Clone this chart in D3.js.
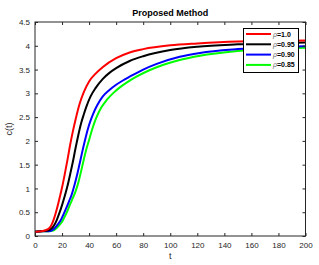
<!DOCTYPE html>
<html><head><meta charset="utf-8">
<script src="https://cdn.jsdelivr.net/npm/d3@7"></script>
<style>body{margin:0;background:#fff}svg{display:block}text{font-family:"Liberation Sans",Arial,sans-serif}</style>
</head><body><svg id="c" width="319" height="265"></svg>
<script>
const title = "Proposed Method";
const xLabel = "t", yLabel = "c(t)";
const xTicks = [0,20,40,60,80,100,120,140,160,180,200];
const yTicks = [0,0.5,1,1.5,2,2.5,3,3.5,4,4.5];
const seriesNames = ["=1.0","=0.95","=0.90","=0.85"];
const seriesColors = ["#ff0000","#000000","#0000ff","#00ff00"];
const redT   = [0,5,10,12,14,16,18,20,22,24,26,28,30,33,36,40,45,50,60,70,80,100,120,150,200];
const redV   = [0.09,0.1,0.15,0.22,0.36,0.55,0.78,1.02,1.3,1.6,1.92,2.2,2.45,2.78,3.02,3.25,3.42,3.55,3.74,3.86,3.93,4.01,4.05,4.09,4.11];
const blackT = [0,5,10,12,14,16,18,20,22,24,26,28,30,32,34,36,38,41,45,50,55,60,70,80,100,120,150,200];
const blackV = [0.09,0.1,0.12,0.15,0.22,0.33,0.48,0.65,0.84,1.05,1.3,1.56,1.85,2.12,2.36,2.55,2.72,2.93,3.12,3.3,3.43,3.53,3.68,3.78,3.91,3.98,4.03,4.07];
const blueT  = [0,5,10,13,15,17,19,21,23,25,27,29,31,33,35,37,39,41,43,46,50,55,60,65,70,80,90,107,122,150,200];
const blueV  = [0.09,0.1,0.1,0.13,0.18,0.25,0.33,0.45,0.58,0.72,0.86,1.05,1.27,1.52,1.78,2.02,2.24,2.42,2.57,2.75,2.93,3.07,3.18,3.27,3.35,3.5,3.62,3.77,3.85,3.93,3.99];
const greenT = [0,5,10,14,16,18,20,22,24,26,28,30,32,34,36,38,40,42,44,46,49,53,58,63,68,75,85,95,107,122,150,200];
const greenV = [0.09,0.1,0.1,0.12,0.17,0.23,0.3,0.41,0.53,0.67,0.8,0.94,1.12,1.35,1.6,1.83,2.02,2.22,2.39,2.53,2.7,2.86,3.01,3.13,3.23,3.35,3.49,3.6,3.7,3.79,3.89,3.96];

const series = [[redT,redV],[blackT,blackV],[blueT,blueV],[greenT,greenV]]
  .map((s,i)=>({name:seriesNames[i], color:seriesColors[i], pts:s[0].map((t,j)=>[t,s[1][j]])}));

const svg = d3.select("#c");
const L=35, R=305.5, T=22, B=236;
const x = d3.scaleLinear().domain([0,200]).range([L,R]);
const y = d3.scaleLinear().domain([0,4.5]).range([B,T]);
const axCol="#262626";

svg.append("rect").attr("x",L).attr("y",T).attr("width",R-L).attr("height",B-T).attr("fill","#fff");

svg.append("clipPath").attr("id","clp").append("rect").attr("x",L).attr("y",T).attr("width",R-L).attr("height",B-T);
const line = d3.line().x(d=>x(d[0])).y(d=>y(d[1])).curve(d3.curveMonotoneX);
const g = svg.append("g").attr("clip-path","url(#clp)");
series.slice().reverse().forEach(s=>{
  g.append("path").attr("d",line(s.pts)).attr("fill","none").attr("stroke",s.color).attr("stroke-width",2);
});

function styleAxis(sel, showText){
  sel.selectAll(".domain").remove();
  sel.selectAll(".tick line").attr("stroke",axCol);
  sel.selectAll(".tick text").attr("fill",axCol).style("font-size","8px");
  if(!showText) sel.selectAll(".tick text").remove();
}
svg.append("g").attr("transform",`translate(0,${B})`).call(d3.axisBottom(x).tickValues(xTicks).tickSizeInner(-3).tickSizeOuter(0).tickPadding(6)).call(s=>styleAxis(s,true));
svg.append("g").attr("transform",`translate(0,${T})`).call(d3.axisTop(x).tickValues(xTicks).tickSizeInner(-3).tickSizeOuter(0)).call(s=>styleAxis(s,false));
svg.append("g").attr("transform",`translate(${L},0)`).call(d3.axisLeft(y).tickValues(yTicks).tickSizeInner(-3).tickSizeOuter(0).tickPadding(5).tickFormat(d3.format("~g"))).call(s=>styleAxis(s,true));
svg.append("g").attr("transform",`translate(${R},0)`).call(d3.axisRight(y).tickValues(yTicks).tickSizeInner(-3).tickSizeOuter(0)).call(s=>styleAxis(s,false));

svg.append("rect").attr("x",L).attr("y",T).attr("width",R-L).attr("height",B-T).attr("fill","none").attr("stroke",axCol).attr("stroke-width",1);

svg.append("text").attr("x",(L+R)/2).attr("y",16).attr("text-anchor","middle").style("font-size","9px").style("font-weight","bold").attr("fill","#000").text(title);
svg.append("text").attr("x",(L+R)/2).attr("y",259).attr("text-anchor","middle").style("font-size","9px").attr("fill",axCol).text(xLabel);
svg.append("text").attr("transform",`translate(12,${(T+B)/2}) rotate(-90)`).attr("text-anchor","middle").style("font-size","9px").attr("fill",axCol).text(yLabel);

const lg = svg.append("g");
lg.append("rect").attr("x",243.5).attr("y",28.5).attr("width",55).attr("height",44).attr("fill","#fff").attr("stroke","#000").attr("stroke-width",1);
series.forEach((s,i)=>{
  const yy = 34 + i*10.3;
  lg.append("line").attr("x1",246).attr("x2",271).attr("y1",yy).attr("y2",yy).attr("stroke",s.color).attr("stroke-width",2);
  const t = lg.append("text").attr("x",273).attr("y",yy+2.5).style("font-size","7px").attr("fill","#000");
  t.append("tspan").style("font-style","italic").attr("fill","#666").text("ρ");
  t.append("tspan").style("font-weight","bold").text(s.name);
});
</script></body></html>
